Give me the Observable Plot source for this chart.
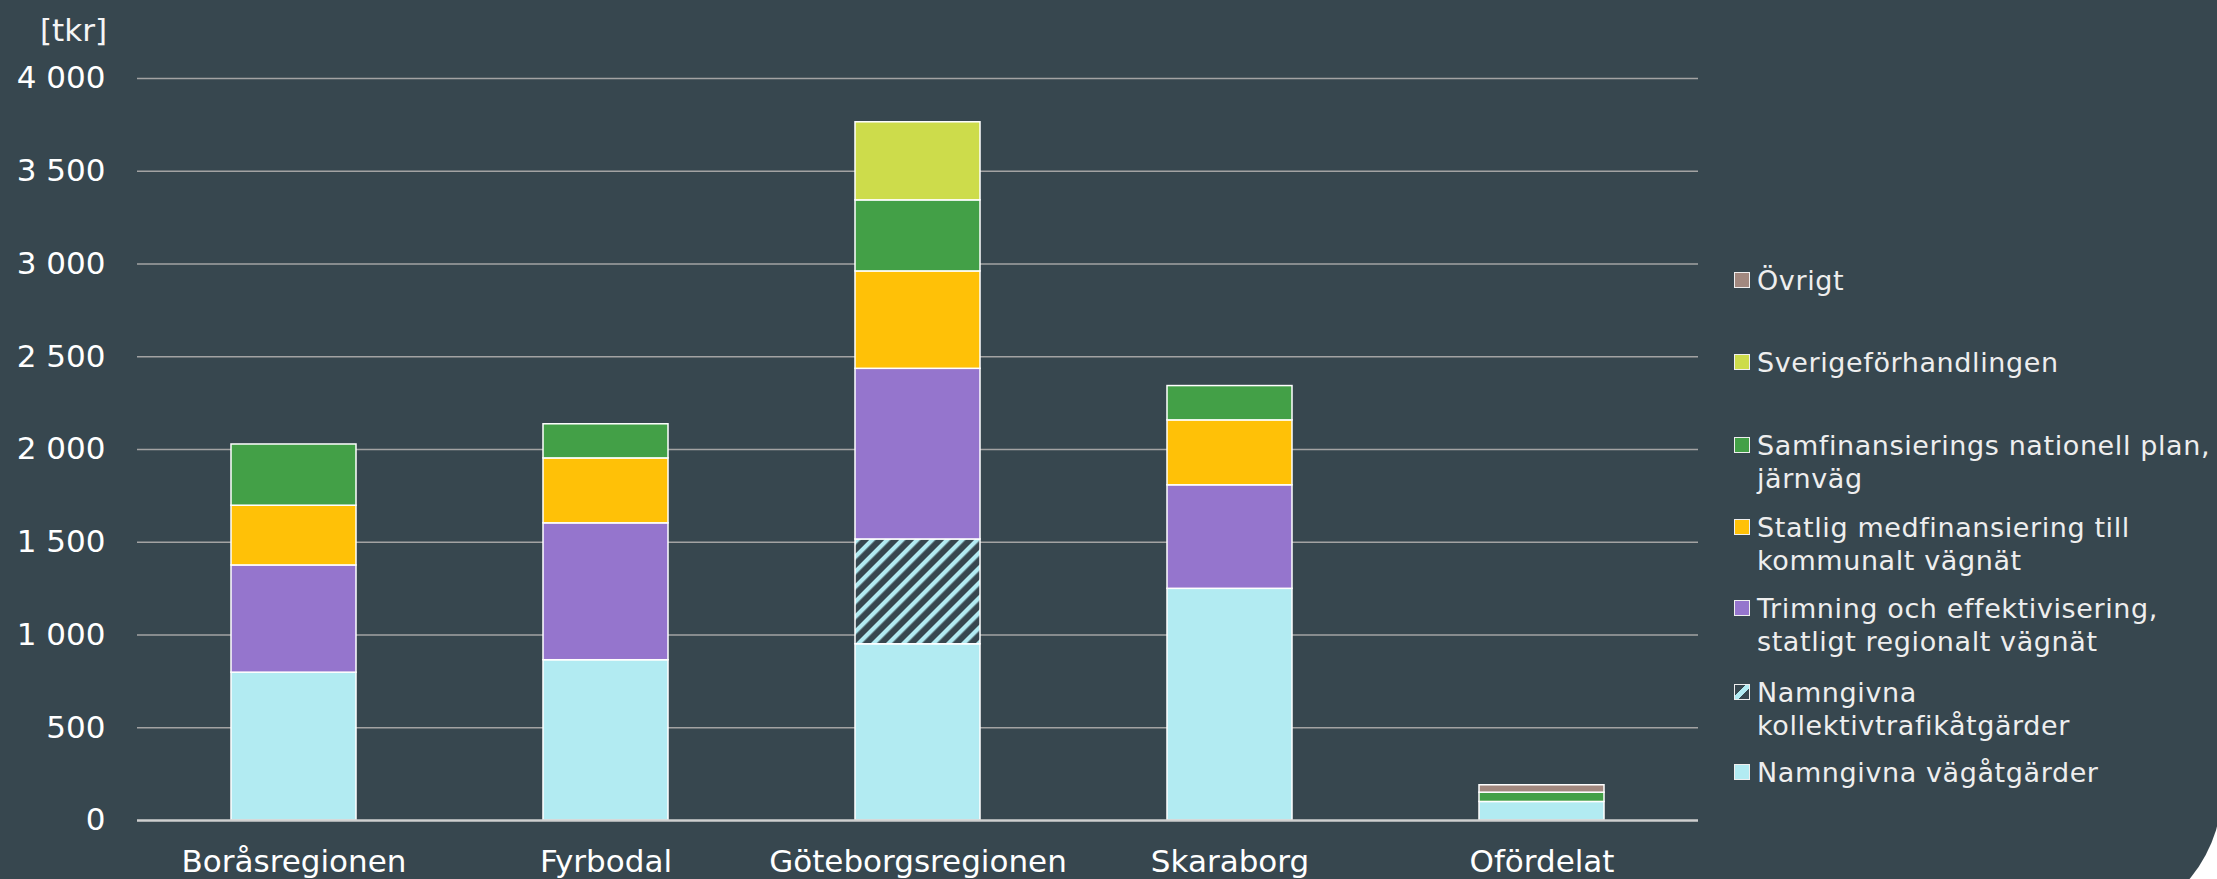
<!DOCTYPE html>
<html>
<head>
<meta charset="utf-8">
<script src="https://cdn.jsdelivr.net/npm/d3@7"></script>
<script src="https://cdn.jsdelivr.net/npm/@observablehq/plot@0.6"></script>
<style>
  html, body { margin: 0; padding: 0; background: #ffffff; overflow: hidden; }
  #panel { position: absolute; left: 0; top: 0; width: 2221.5px; height: 928px; background: #37474F; border-bottom-right-radius: 138px; overflow: hidden; font-family: "DejaVu Sans", Verdana, sans-serif; }
  #chart { position: absolute; left: 0; top: 0; }
  #unit { position: absolute; left: 40px; top: 10px; font-size: 31px; line-height: 40px; color: #f5f5f5; }
  .item { position: absolute; left: 1734px; display: flex; align-items: flex-start; font-size: 27px; line-height: 33px; color: #eeeeee; letter-spacing: 0.6px; white-space: nowrap; }
  .sw { flex: none; width: 14px; height: 14px; border: 1px solid #eeeeee; margin-top: 8.5px; margin-right: 7px; }
</style>
</head>
<body>
<div id="panel">
  <div id="chart"></div>
  <div id="unit">[tkr]</div>
  <div id="legend"></div>
</div>
<script>
// ---- data ----
const regions = ["Boråsregionen", "Fyrbodal", "Göteborgsregionen", "Skaraborg", "Ofördelat"];
const series = [
  "Namngivna vägåtgärder",
  "Namngivna kollektivtrafikåtgärder",
  "Trimning och effektivisering, statligt regionalt vägnät",
  "Statlig medfinansiering till kommunalt vägnät",
  "Samfinansierings nationell plan, järnväg",
  "Sverigeförhandlingen",
  "Övrigt"
];
const vagatgarder     = [797, 864, 950, 1249, 100];
const kollektivtrafik = [0, 0, 565, 0, 0];
const trimning        = [578, 738, 920, 558, 0];
const statligMedfin   = [322, 350, 525, 350, 0];
const samfinansiering = [330, 184, 383, 185, 50];
const sverigeforh     = [0, 0, 421, 0, 0];
const ovrigt          = [0, 0, 0, 0, 40];
const seriesValues = [vagatgarder, kollektivtrafik, trimning, statligMedfin, samfinansiering, sverigeforh, ovrigt];
const yTicks = [0, 500, 1000, 1500, 2000, 2500, 3000, 3500, 4000];

// legend labels (line breaks as in the reference) and colours
const legendLabels = [
  "Övrigt",
  "Sverigeförhandlingen",
  "Samfinansierings nationell plan,<br>järnväg",
  "Statlig medfinansiering till<br>kommunalt vägnät",
  "Trimning och effektivisering,<br>statligt regionalt vägnät",
  "Namngivna<br>kollektivtrafikåtgärder",
  "Namngivna vägåtgärder"
];
const legendSeries = [6, 5, 4, 3, 2, 1, 0];
const legendCenters = [280, 362, 445, 527, 608, 692, 772];
const colors = ["#B2EBF2", "url(#hatch)", "#9575CD", "#FFC107", "#43A047", "#CDDC4B", "#A1887F"];

// ---- table ----
const rows = [];
series.forEach((s, si) => {
  regions.forEach((r, ri) => {
    const v = seriesValues[si][ri];
    if (v > 0) rows.push({region: r, series: s, value: v});
  });
});

const fmt = d => d3.format(",")(d).replace(/,/g, " ");

const chart = Plot.plot({
  width: 1720,
  height: 879,
  marginLeft: 137,
  marginRight: 22,
  marginTop: 78,
  marginBottom: 59,
  style: {background: "transparent", color: "#ffffff", fontFamily: "DejaVu Sans, Verdana, sans-serif", fontSize: "31px"},
  x: {domain: regions, paddingInner: 0.6, paddingOuter: 0.3, tickSize: 0, tickPadding: 29, label: null},
  y: {domain: [0, 4000], ticks: yTicks, tickSize: 0, tickPadding: 32, tickFormat: fmt, label: null},
  color: {domain: series, range: colors},
  marks: [
    Plot.ruleY(yTicks.filter(d => d > 0), {stroke: "#a3a3a3", strokeWidth: 1.5}),
    Plot.barY(rows, Plot.stackY({x: "region", y: "value", fill: "series", z: "series", stroke: "#ffffff", strokeWidth: 1.5})),
    Plot.ruleY([0], {stroke: "#cfcfcf", strokeWidth: 2.5})
  ]
});

// hatch pattern for "Namngivna kollektivtrafikåtgärder"
const svg = d3.select(chart);
const defs = svg.insert("defs", ":first-child");
const pat = defs.append("pattern")
  .attr("id", "hatch")
  .attr("patternUnits", "userSpaceOnUse")
  .attr("width", 10.6).attr("height", 10.6)
  .attr("patternTransform", "rotate(45)");
pat.append("rect").attr("width", 10.6).attr("height", 10.6).attr("fill", "#37474F");
pat.append("rect").attr("width", 4.3).attr("height", 10.6).attr("fill", "#B2EBF2");

document.getElementById("chart").appendChild(chart);

// legend
const legend = document.getElementById("legend");
legendSeries.forEach((si, i) => {
  const item = document.createElement("div");
  item.className = "item";
  item.style.top = (legendCenters[i] - 16.5) + "px";
  const sw = document.createElement("div");
  sw.className = "sw";
  const c = colors[si];
  if (c.startsWith("url(")) {
    sw.style.background = "linear-gradient(135deg, #37474F 38%, #B2EBF2 38%, #B2EBF2 62%, #37474F 62%)";
  } else {
    sw.style.background = c;
  }
  const label = document.createElement("div");
  label.innerHTML = legendLabels[i];
  item.appendChild(sw);
  item.appendChild(label);
  legend.appendChild(item);
});
</script>
</body>
</html>
